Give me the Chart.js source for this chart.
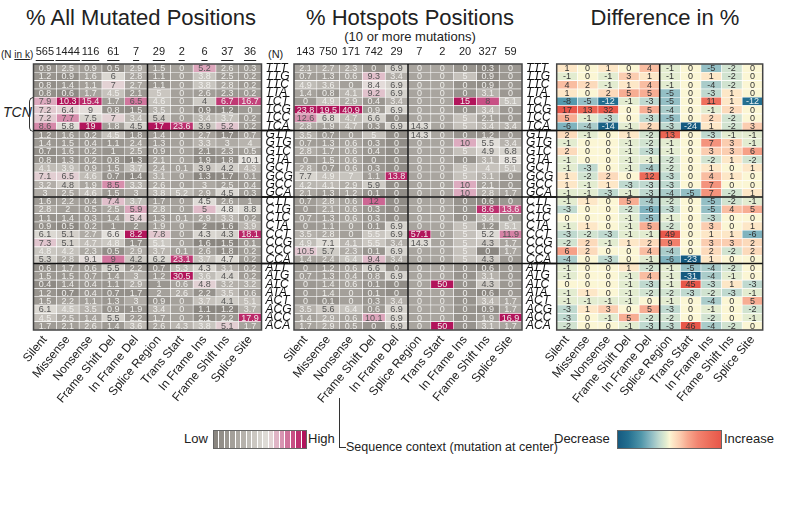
<!DOCTYPE html>
<html><head><meta charset="utf-8">
<script src="https://cdn.jsdelivr.net/npm/chart.js@4.4.0/dist/chart.umd.min.js"></script>
<style>
body{margin:0;width:787px;height:506px;background:#fff;position:relative;overflow:hidden;font-family:"Liberation Sans",Arial,sans-serif;color:#222}
canvas{position:absolute}
.t{position:absolute;white-space:nowrap}
</style></head><body>
<div class="t" style="left:0;top:5px;width:282px;text-align:center;font-size:22px">% All Mutated Positions</div>
<div class="t" style="left:300px;top:5px;width:220px;text-align:center;font-size:22px">% Hotspots Positions</div>
<div class="t" style="left:300px;top:29px;width:220px;text-align:center;font-size:13px">(10 or more mutations)</div>
<div class="t" style="left:558px;top:5px;width:214px;text-align:center;font-size:22px">Difference in %</div>
<div class="t" style="left:1px;top:49px;font-size:10px">(N <u>in k</u>)</div>
<div class="t" style="left:268px;top:48px;font-size:11px">(N)</div>
<div class="t" style="left:3px;top:104px;font-size:14px;font-style:italic">TCN</div>
<div style="position:absolute;left:29px;top:97px;width:4px;height:33px;border:1px solid #333;border-right:none;border-radius:5px 0 0 5px"></div>
<div class="t" style="left:184px;top:431px;font-size:13px">Low</div>
<div id="lowhigh" style="position:absolute;left:213px;top:430px;width:92px;height:17px;border:1px solid #666;display:flex;background:#fff"></div>
<div class="t" style="left:308px;top:431px;font-size:13px">High</div>
<div class="t" style="left:554px;top:431px;font-size:13px">Decrease</div>
<div id="decinc" style="position:absolute;left:617px;top:430px;width:103px;height:17px;border:1px solid #666"></div>
<div class="t" style="left:724px;top:431px;font-size:13px">Increase</div>
<div style="position:absolute;left:339px;top:398px;width:6px;height:49px;border-left:1px solid #333;border-bottom:1px solid #333"></div>
<div class="t" style="left:346px;top:440px;font-size:12.5px">Sequence context (mutation at center)</div>

<canvas id="c1" width="295" height="380" style="left:0;top:40px"></canvas>
<canvas id="c2" width="295" height="380" style="left:262px;top:40px"></canvas>
<canvas id="c3" width="257" height="380" style="left:530px;top:40px"></canvas>
<script>
const rows = ["TTT","TTG","TTC","TTA","TCT","TCG","TCC","TCA","GTT","GTG","GTC","GTA","GCT","GCG","GCC","GCA","CTT","CTG","CTC","CTA","CCT","CCG","CCC","CCA","ATT","ATG","ATC","ATA","ACT","ACG","ACC","ACA"];
const mutationTypes = ["Silent","Missense","Nonsense","Frame Shift Del","In Frame Del","Splice Region","Trans Start","In Frame Ins","Frame Shift Ins","Splice Site"];
const allCountsK = [565,1444,116,61,7,29,2,6,37,36];
const hotspotCounts = [143,750,171,742,29,7,2,20,327,59];
const allPct = [
[0.9,2.5,0.9,0.5,2.9,1.5,0,5.2,2.6,0.3],
[1.2,0.9,1.6,6,2.8,1.1,0,3.8,2.5,0.2],
[0.8,1.4,1.1,7,2.7,1.1,0,3.8,2.8,0.2],
[0.8,0.6,1.7,4.5,2.1,5,0,2.6,2.3,0.2],
[7.9,10.3,15.4,1.7,6.5,4.6,0,4,6.7,16.7],
[7.2,6.4,9,0.8,1.5,3.5,0,0.9,1.2,0],
[7.2,7.7,7.5,7,3.4,5.4,0,3.4,3.7,0.2],
[8.6,5.8,19,1.8,4.5,17,23.6,3.9,5.2,0.2],
[1.2,1.6,0.2,4.5,1.8,1.4,0,2.7,1.7,0.7],
[1.4,1.5,0.4,1.1,2.4,1.3,0,3.3,3,4],
[0.7,1.6,0.2,1,2.5,0.9,0,2.1,2.3,0.5],
[0.8,1.3,0.2,0.8,1.3,2.1,0,1.9,1.8,10.1],
[4.1,3.9,0.9,1.5,3.7,2.4,0.1,3.9,4.2,4.3],
[7.1,6.5,4.6,0.7,1.4,3.1,0,1.3,1.7,0.1],
[3.2,4.8,1.9,8.5,3.3,2.6,0,3,2.5,0.4],
[3,2.5,4.6,1.5,3,3.8,5.2,2.9,4.5,0.3],
[1.6,2.2,0.4,7.4,3.7,1.7,0,4.5,2.6,1],
[2.8,2,0.5,2.5,5.9,2.8,0,5,4.8,8.8],
[1.1,1.4,0.3,1.4,5.4,1.3,0.1,2.9,3.3,0.2],
[0.9,0.5,0.2,1,2,1.9,0,2,1.6,3.9],
[6.1,5.1,2.7,6.6,8.2,7.8,0,4.3,4.3,18.1],
[7.3,5.1,4.7,4.8,1.7,5.1,0,1.6,1.5,0.1],
[4.8,4.2,2.3,0.5,2.9,3.7,0.1,2.6,1.8,0.2],
[5.3,2.8,9.1,9,4.2,6.2,23.1,3.7,4.7,0.2],
[0.6,1.7,0.6,5.5,2.2,0.7,5.3,4.3,3.1,0.2],
[1.5,1.5,0.7,1.4,3,1.2,30.5,3.6,4.4,0.2],
[0.4,1.4,0.4,1.1,2.9,1,0.6,4.8,3.2,3.2],
[1.2,0.7,0.4,0.7,1.7,2,2.6,2.2,3.5,0.6],
[1.5,2.2,1.1,1.3,3,0.9,0,3.7,4.1,5.1],
[6.1,4.5,3.5,0.9,1.9,3.4,0,1.1,1.2,3.7],
[4.5,2.5,1.4,5.5,2.2,1.7,0,2.1,2.2,17.9],
[1.7,2.1,2.6,1.4,3.6,2.6,4.3,3.8,5.1,1.7]
];
const hotspotPct = [
[2.1,2.7,2.3,0,6.9,0,0,0,0.3,0],
[0.7,1.3,0.6,9.3,3.4,0,0,5,0.9,0],
[4.9,3.6,0,8.4,6.9,0,0,0,0.9,0],
[1.4,0.8,4.1,9.2,6.9,0,0,0,3.1,0],
[0,4.9,2.9,0.4,3.4,0,0,15,8,5.1],
[23.8,19.5,40.9,0.9,6.9,0,0,0,3.4,0],
[12.6,6.8,4.7,6.6,0,0,0,5,2.1,0],
[2.8,1.9,4.7,0.3,6.9,14.3,0,5,3.4,3.4],
[3.5,0.7,0,5,0,14.3,0,0,1.2,0],
[0.7,1.3,0.6,0.3,0,0,0,10,5.5,3.4],
[2.8,1.7,0.6,0.4,0,0,0,5,4.9,6.8],
[0,1.5,0.6,0,0,0,0,0,3.1,8.5],
[2.8,0.7,0.6,0.3,0,0,0,5,4,5.1],
[7.7,4.9,7,1.1,13.8,0,0,5,3.1,0],
[4.2,4.1,2.9,5.9,0,0,0,10,2.1,0],
[2.1,1.3,1.2,0.1,0,0,0,10,2.8,1.7],
[0.7,2.8,0.6,12,0,0,0,0,0.6,0],
[0,2.1,0.6,0.3,0,0,0,0,8.6,13.6],
[0.7,1.3,0.6,0.3,0,0,0,0,3.4,0],
[0,1.1,0,0.1,6.9,0,0,5,1.2,5.1],
[3.5,2.8,0,5.5,6.9,57.1,0,5,5.2,11.9],
[4.9,7.1,4.1,5.5,3.4,14.3,0,5,4.3,1.7],
[10.5,5.7,2.3,0.1,6.9,0,0,5,0,1.7],
[1.4,2.4,6.4,9.4,3.4,0,0,5,4.3,0],
[0,1.2,0.6,6.6,0,0,0,0,0.6,0],
[0.7,1.3,0.4,0.8,6.9,0,0,0,3.1,0],
[0,1.4,0.6,0.1,0,0,50,0,4.3,0],
[0,1.4,0,0.1,0,0,0,0,0.6,0],
[0,0.1,0,0.3,3.4,0,0,0,3.4,1.7],
[3.5,5.6,6.4,0.6,6.9,0,0,0,0.9,1.7],
[1.4,2.9,0.6,10.1,6.9,0,0,0,1.9,16.9],
[1.7,2.9,0.5,0,6.9,0,50,0,3.1,1.7]
];
const diffPct = [
[1,0,1,0,4,-1,0,-5,-2,0],
[-1,0,-1,3,1,-1,0,1,-2,0],
[4,2,-1,1,4,-1,0,-4,-2,0],
[1,0,2,5,5,-5,0,-3,1,0],
[-8,-5,-12,-1,-3,-5,0,11,1,-12],
[17,13,32,0,5,-4,0,-1,2,0],
[5,-1,-3,0,-3,-5,0,2,-2,0],
[-6,-4,-14,-1,2,-3,-24,1,-2,3],
[2,-1,0,1,-2,13,0,-3,-1,-1],
[-1,0,0,-1,-2,-1,0,7,3,-1],
[2,0,0,-1,-3,-1,0,3,3,6],
[-1,0,0,-1,-1,-2,0,-2,1,-2],
[-1,-3,0,-1,-4,-2,0,1,0,1],
[1,-2,2,0,12,-3,0,4,1,0],
[1,-1,1,-3,-3,-3,0,7,0,0],
[-1,-1,-3,-1,-3,-4,-5,7,-2,1],
[-1,1,0,5,-4,-2,0,-5,-2,-1],
[-3,0,0,-2,-6,-3,0,-5,4,5],
[0,0,0,-1,-5,-1,0,-3,0,0],
[-1,1,0,-1,5,-2,0,3,0,1],
[-3,-2,-3,-1,-1,49,0,1,1,-6],
[-2,2,-1,1,2,9,0,3,3,2],
[6,2,0,0,4,-4,0,2,-2,2],
[-4,0,-3,0,-1,-6,-23,1,0,0],
[-1,0,0,1,-2,-1,-5,-4,-2,0],
[-1,0,0,-1,4,-1,-31,-4,-1,0],
[0,0,0,-1,-3,-1,45,-3,1,-3],
[-1,1,0,-1,-2,-2,-3,-2,-3,-1],
[-1,-1,-1,-1,0,-1,0,-4,0,5],
[-3,1,3,0,5,-3,0,-1,0,-2],
[-3,0,-1,5,-2,-2,0,-2,0,-1],
[-2,0,0,-1,-3,-3,46,-4,-2,0]
];

// ---- colour helpers ----
const hx = h => [parseInt(h.slice(1,3),16),parseInt(h.slice(3,5),16),parseInt(h.slice(5,7),16)];
function interp(stops,t){
  t=Math.max(0,Math.min(1,t));
  for(let k=1;k<stops.length;k++){
    if(t<=stops[k][0]){
      const t0=stops[k-1][0],t1=stops[k][0],c0=hx(stops[k-1][1]),c1=hx(stops[k][1]);
      const f=(t-t0)/((t1-t0)||1);
      const c=c0.map((v,i)=>Math.round(v+(c1[i]-v)*f));
      return `rgb(${c[0]},${c[1]},${c[2]})`;
    }
  }
  return stops[stops.length-1][1];
}
const seqStops=[[0,'#8a8680'],[0.286,'#b2aea8'],[0.52,'#d8d5cf'],[0.6,'#e4e1dc'],[0.68,'#e0b8c7'],[0.78,'#d585a7'],[0.9,'#c4417b'],[1,'#b2145b']];
const divStops=[[0,'#155a80'],[0.1,'#236f90'],[0.225,'#5096aa'],[0.325,'#8fbcc4'],[0.4,'#bfd9cf'],[0.465,'#e2ecd0'],[0.5,'#fbf6d4'],[0.535,'#fde6c6'],[0.6,'#fbcdb0'],[0.675,'#f7a98f'],[0.775,'#f28470'],[0.9,'#ec6a58'],[1,'#e8574a']];

function zT(values){
  const n=values.length, m=values[0].length;
  const T=values.map(r=>r.slice());
  for(let j=0;j<m;j++){
    let s=0; for(let i=0;i<n;i++) s+=values[i][j];
    const mean=s/n; let v=0; for(let i=0;i<n;i++) v+=(values[i][j]-mean)**2;
    const sd=Math.sqrt(v/n)||1;
    for(let i=0;i<n;i++) T[i][j]=((values[i][j]-mean)/sd+1.2)/4.2;
  }
  return T;
}
const seqColor=(T)=>(i,j)=>interp(seqStops,T[i][j]);
const seqText=(T)=>(i,j)=>{const t=T[i][j]; return (t<0.44||t>0.88)?'#efeeeb':'#555';};
const divT=(v)=>(Math.max(-15,Math.min(15,v))+15)/30;
const divColor=(i,j)=>interp(divStops,divT(diffPct[i][j]));
const divText=(i,j)=>divT(diffPct[i][j])<0.2?'#e8f0f2':'#333';

function makePlugin(values,textColor,lineL,lineR,underline){
  return {
    id:'cells',
    afterDatasetsDraw(chart){
      const ctx=chart.ctx;
      ctx.save();
      ctx.font='9px "Liberation Sans", Arial';
      ctx.textAlign='center'; ctx.textBaseline='middle';
      chart.data.datasets.forEach((ds,j)=>{
        chart.getDatasetMeta(j).data.forEach((el,i)=>{
          ctx.fillStyle=textColor(i,j);
          ctx.fillText(String(values[i][j]),(el.x+el.base)/2,el.y+0.5);
        });
      });
      const a=chart.chartArea, ys=chart.scales.y, xs=chart.scales.x;
      ctx.strokeStyle='#444'; ctx.lineWidth=1.5;
      ctx.strokeRect(a.left,a.top,a.right-a.left,a.bottom-a.top);
      ctx.strokeStyle='#111';
      const xm=xs.getPixelForValue(5);
      ctx.beginPath(); ctx.moveTo(xm,a.top); ctx.lineTo(xm,a.bottom); ctx.stroke();
      [8,16,24].forEach(g=>{
        const y=(ys.getPixelForValue(g-1)+ys.getPixelForValue(g))/2;
        ctx.beginPath(); ctx.moveTo(a.left+lineL,y); ctx.lineTo(a.right+lineR,y); ctx.stroke();
      });
      if(underline){
        const xt=chart.scales.xt;
        ctx.font='11px "Liberation Sans", Arial';
        ctx.strokeStyle='#222'; ctx.lineWidth=1;
        xt.ticks.forEach((tk,k)=>{
          const w=ctx.measureText(String(xt.getLabelForValue(k))).width;
          const x=xt.getPixelForTick(k), y=xt.bottom-3.5;
          ctx.beginPath(); ctx.moveTo(x-w/2,y); ctx.lineTo(x+w/2,y); ctx.stroke();
        });
      }
      ctx.restore();
    }
  };
}

function heatmap(id,values,bg,textColor,opt){
  const datasets=mutationTypes.map((name,j)=>({
    label:name,
    data:rows.map(()=>[j,j+1]),
    backgroundColor:rows.map((r,i)=>bg(i,j)),
    borderColor:'#ffffff',borderWidth:0.6,borderSkipped:false,
    grouped:false,barPercentage:1,categoryPercentage:1
  }));
  const scales={
    x:{type:'linear',min:0,max:10,display:false},
    y:{type:'category',position:'right',display:opt.showRows,offset:true,
       grid:{display:false,drawTicks:false},border:{display:false},
       ticks:{autoSkip:false,padding:4,color:'#111',font:{family:'"Liberation Sans", Arial',size:12,style:'italic'}},
       afterFit:s=>{s.width=opt.yW;}},
    xb:{type:'category',position:'bottom',labels:mutationTypes,offset:true,
       grid:{display:false,drawTicks:false},border:{display:false},
       ticks:{autoSkip:false,minRotation:50,maxRotation:50,padding:3,color:'#222',font:{family:'"Liberation Sans", Arial',size:12}},
       afterFit:s=>{s.height=90;}}
  };
  if(opt.top){
    scales.xt={type:'category',position:'top',labels:opt.top,offset:true,
       grid:{display:false,drawTicks:false},border:{display:false},
       ticks:{autoSkip:false,maxRotation:0,minRotation:0,padding:5,color:'#222',font:{family:'"Liberation Sans", Arial',size:11}},
       afterFit:s=>{s.height=24;}};
  }
  return new Chart(document.getElementById(id),{
    type:'bar',
    data:{labels:rows,datasets},
    options:{
      indexAxis:'y',responsive:false,animation:false,devicePixelRatio:1,
      layout:{padding:opt.padding},
      plugins:{legend:{display:false},tooltip:{enabled:false}},
      scales
    },
    plugins:[makePlugin(values,textColor,opt.lineL,opt.lineR,opt.underline)]
  });
}

const Tall=zT(allPct), Thot=zT(hotspotPct);
heatmap('c1',allPct,seqColor(Tall),seqText(Tall),{showRows:true,yW:33.5,top:allCountsK,padding:{left:33.5,right:0,top:0,bottom:0},lineL:0,lineR:31,underline:true});
heatmap('c2',hotspotPct,seqColor(Thot),seqText(Thot),{showRows:true,yW:35,top:hotspotCounts,padding:{left:32,right:0,top:0,bottom:0},lineL:-32,lineR:34,underline:false});
heatmap('c3',diffPct,divColor,divText,{showRows:false,yW:0,top:null,padding:{left:26.7,right:24.3,top:24,bottom:0},lineL:-27,lineR:0,underline:false});

// legends (styling only)
const lh=document.getElementById('lowhigh');
for(let k=0;k<17;k++){const d=document.createElement('div');d.style.cssText=`flex:1;background:${interp(seqStops,k/16)};margin-right:${k<16?1:0}px`;lh.appendChild(d);}
document.getElementById('decinc').style.background='linear-gradient(to right,'+divStops.map(s=>`${s[1]} ${s[0]*100}%`).join(',')+')';
</script>
</body></html>
